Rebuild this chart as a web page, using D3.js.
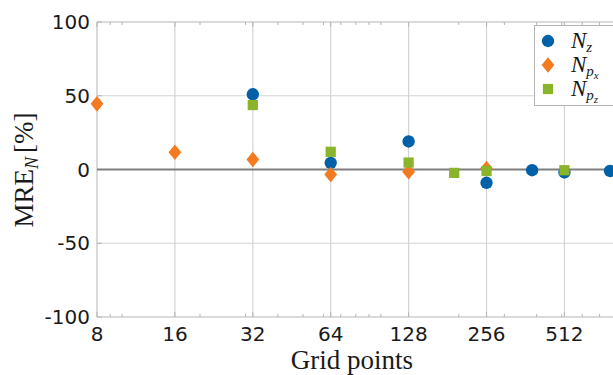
<!DOCTYPE html>
<html>
<head>
<meta charset="utf-8">
<script src="https://cdn.jsdelivr.net/npm/d3@7"></script>
<style>
  html, body { margin: 0; padding: 0; background: #fff; }
  svg { display: block; }
  .tick-label { font-family: "DejaVu Sans", sans-serif; font-size: 20px; fill: #1a1a1a; }
  .serif { font-family: "Liberation Serif", "Times New Roman", serif; fill: #1a1a1a; }
</style>
</head>
<body>
<svg id="chart" width="613" height="375"></svg>
<script>
// Grid sizes and mean relative errors (%) for each quantity
const nzGrid  = [32, 64, 128, 256, 384, 512, 768];
const nzErr   = [51, 4.5, 19, -9, -0.5, -2, -1];
const npxGrid = [8, 16, 32, 64, 128, 256];
const npxErr  = [44.5, 11.7, 6.8, -3.4, -1.5, 0.6];
const npzGrid = [32, 64, 128, 192, 256, 512];
const npzErr  = [43.7, 12, 4.7, -2.3, -1, -0.5];

const xTicks = [8, 16, 32, 64, 128, 256, 512];
const xMinor = [9, 10, 20, 30, 40, 50, 60, 70, 80, 90, 100, 200, 300, 400, 500, 600, 700];
const yTicks = [-100, -50, 0, 50, 100];

const colors = { nz: "#0060a8", npx: "#f47a20", npz: "#8ab42a" };

const svg = d3.select("#chart");
const plotL = 97, plotR = 610, plotT = 22, plotB = 317;

const x = d3.scaleLog().base(2).domain([8, 768]).range([plotL, plotR]);
const y = d3.scaleLinear().domain([-100, 100]).range([plotB, plotT]);

// grid lines
const grid = svg.append("g");
grid.selectAll(".gx").data(xTicks.slice(1)).join("line")
  .attr("x1", d => x(d)).attr("x2", d => x(d))
  .attr("y1", plotT).attr("y2", plotB)
  .attr("stroke", "#d4d4d4").attr("stroke-width", 1.2);
grid.selectAll(".gy").data(yTicks.filter(d => d !== 0 && d !== -100 && d !== 100)).join("line")
  .attr("x1", plotL).attr("x2", 613)
  .attr("y1", d => y(d)).attr("y2", d => y(d))
  .attr("stroke", "#d4d4d4").attr("stroke-width", 1.2);

// frame
svg.append("line").attr("x1", plotL).attr("x2", 613).attr("y1", plotT).attr("y2", plotT)
  .attr("stroke", "#b5b5b5").attr("stroke-width", 1);
svg.append("line").attr("x1", plotL).attr("x2", 613).attr("y1", plotB).attr("y2", plotB)
  .attr("stroke", "#b5b5b5").attr("stroke-width", 1);
svg.append("line").attr("x1", plotL).attr("x2", plotL).attr("y1", plotT).attr("y2", plotB)
  .attr("stroke", "#b5b5b5").attr("stroke-width", 1);

// ticks on top and bottom edges
const tickG = svg.append("g").attr("stroke", "#b5b5b5").attr("stroke-width", 1);
[[xTicks, 5], [xMinor, 3]].forEach(([vals, len]) => {
  tickG.append("g").selectAll("line").data(vals).join("line")
    .attr("x1", d => x(d)).attr("x2", d => x(d))
    .attr("y1", plotB).attr("y2", plotB - len);
  tickG.append("g").selectAll("line").data(vals).join("line")
    .attr("x1", d => x(d)).attr("x2", d => x(d))
    .attr("y1", plotT).attr("y2", plotT + len);
});
tickG.append("g").selectAll("line").data(yTicks).join("line")
  .attr("x1", plotL).attr("x2", plotL + 5)
  .attr("y1", d => y(d)).attr("y2", d => y(d));

// zero line
svg.append("line").attr("x1", plotL).attr("x2", 613)
  .attr("y1", y(0)).attr("y2", y(0))
  .attr("stroke", "#7f7f7f").attr("stroke-width", 2.2);

// tick labels
svg.append("g").selectAll("text").data(xTicks).join("text")
  .attr("class", "tick-label")
  .attr("x", d => x(d)).attr("y", 341)
  .attr("text-anchor", "middle").text(d => d);
svg.append("g").selectAll("text").data(yTicks).join("text")
  .attr("class", "tick-label")
  .attr("x", 90).attr("y", d => y(d) + 7)
  .attr("text-anchor", "end").text(d => d);

// axis titles
svg.append("text").attr("class", "serif")
  .attr("x", 352).attr("y", 369).attr("text-anchor", "middle")
  .style("font-size", "27px").text("Grid points");

const yl = svg.append("text").attr("class", "serif")
  .attr("transform", "translate(33,170) rotate(-90)")
  .attr("text-anchor", "middle").style("font-size", "27px");
yl.append("tspan").text("MRE");
yl.append("tspan").attr("dy", 5).style("font-size", "18px").style("font-style", "italic").text("N");
yl.append("tspan").attr("dy", -5).attr("dx", 4).text("[%]");

// markers: circle, wide diamond, square
const wideDiamond = {
  draw(ctx, size) {
    const h = Math.sqrt(size) * 0.78, w = h * 0.82;
    ctx.moveTo(0, -h); ctx.lineTo(w, 0); ctx.lineTo(0, h); ctx.lineTo(-w, 0); ctx.closePath();
  }
};
const sym = {
  nz: d3.symbol().type(d3.symbolCircle).size(120),
  npx: d3.symbol().type(wideDiamond).size(100),
  npz: d3.symbol().type(d3.symbolSquare).size(105)
};
const series = [
  { key: "nz", gx: nzGrid, v: nzErr },
  { key: "npx", gx: npxGrid, v: npxErr },
  { key: "npz", gx: npzGrid, v: npzErr }
];
series.forEach(s => {
  svg.append("g").selectAll("path").data(s.gx.map((g, i) => [g, s.v[i]])).join("path")
    .attr("d", sym[s.key])
    .attr("transform", d => `translate(${x(d[0])},${y(d[1])})`)
    .attr("fill", colors[s.key]);
});

// legend
const lg = svg.append("g");
lg.append("rect").attr("x", 534.5).attr("y", 25.5).attr("width", 90).attr("height", 80)
  .attr("fill", "#fff").attr("stroke", "#b5b5b5").attr("stroke-width", 1);
const legendRows = [
  { key: "nz", sub: "z", sub2: null },
  { key: "npx", sub: "p", sub2: "x" },
  { key: "npz", sub: "p", sub2: "z" }
];
legendRows.forEach((r, i) => {
  const cy = 41 + i * 24;
  lg.append("path").attr("d", sym[r.key])
    .attr("transform", `translate(548,${cy})`).attr("fill", colors[r.key]);
  const t = lg.append("text").attr("class", "serif")
    .attr("x", 571).attr("y", cy + 7).style("font-size", "23px").style("font-style", "italic");
  t.append("tspan").text("N");
  t.append("tspan").attr("dy", 4).style("font-size", "15px").text(r.sub);
  if (r.sub2) t.append("tspan").attr("dy", 3).style("font-size", "11px").text(r.sub2);
});
</script>
</body>
</html>
